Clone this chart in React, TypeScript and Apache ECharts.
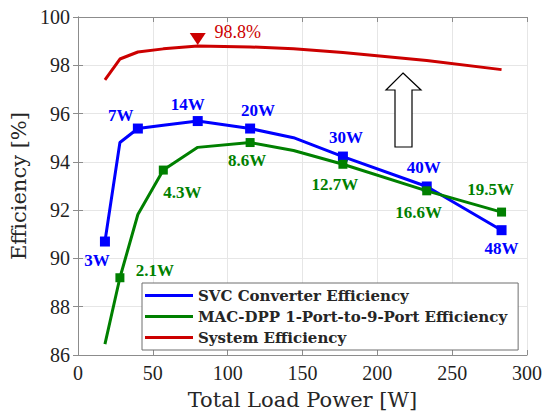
import React, { useEffect, useRef } from "react";
import * as echarts from "echarts";

// Total load power for every measured operating point [W]
const loadPower = [18, 28, 40, 57, 80, 115, 144, 177, 233, 283];
// Efficiency curves [%]
const svcEfficiency = [90.7, 94.8, 95.38, 95.52, 95.69, 95.38, 95.0, 94.22, 92.98, 91.17];
const dppEfficiency = [86.45, 89.2, 91.82, 93.66, 94.6, 94.8, 94.47, 93.9, 92.8, 91.92];
const systemEfficiency = [97.4, 98.26, 98.55, 98.68, 98.8, 98.76, 98.68, 98.53, 98.2, 97.82];

// Per-port power annotations at the marked points (index -> text)
const svcMarks: [number, string][] = [
  [0, "3W"], [2, "7W"], [4, "14W"], [5, "20W"], [7, "30W"], [8, "40W"], [9, "48W"],
];
const dppMarks: [number, string][] = [
  [1, "2.1W"], [3, "4.3W"], [5, "8.6W"], [7, "12.7W"], [8, "16.6W"], [9, "19.5W"],
];
const systemPeak: [number, string] = [4, "98.8%"];

const seriesNames = [
  "SVC Converter Efficiency",
  "MAC-DPP 1-Port-to-9-Port Efficiency",
  "System Efficiency",
];

const xTicks = { min: 0, max: 300, interval: 50 };
const yTicks = { min: 86, max: 100, interval: 2 };

// Label placement relative to the marker centre, in pixels
const labelOffsets: Record<string, [number, number]> = {
  "3W": [-8, 19], "7W": [-17, -13], "14W": [-10, -17], "20W": [8, -18],
  "30W": [3, -19], "40W": [-3, -19], "48W": [0, 18],
  "2.1W": [35, -7], "4.3W": [19, 22], "8.6W": [-3, 18], "12.7W": [-8, 20],
  "16.6W": [-8, 22], "19.5W": [-11, -23],
  "98.8%": [40, -7],
};

const BLUE = "#0000ff";
const GREEN = "#008000";
const RED = "#cc0000";
const TEXT = "#262626";
const SERIF = "Liberation Serif";
const WIDE_SERIF = "DejaVu Serif";

function buildData(values: number[], marks: [number, string][], color: string, size: number) {
  const lookup = new Map(marks);
  return values.map((v, i) => {
    const text = lookup.get(i);
    if (text === undefined) {
      return { value: [loadPower[i], v], symbol: "none" };
    }
    return {
      value: [loadPower[i], v],
      symbol: "rect",
      symbolSize: size,
      label: {
        show: true,
        position: "inside",
        formatter: text,
        offset: labelOffsets[text],
        color,
        fontFamily: SERIF,
        fontWeight: "bold",
        fontSize: 17,
      },
    };
  });
}

function buildSystemData() {
  const [peakIdx, peakText] = systemPeak;
  return systemEfficiency.map((v, i) => {
    if (i !== peakIdx) return { value: [loadPower[i], v], symbol: "none" };
    return {
      value: [loadPower[i], v],
      symbol: "triangle",
      symbolRotate: 180,
      symbolSize: [16, 12],
      symbolOffset: [0, -7],
      label: {
        show: true,
        position: "inside",
        formatter: peakText,
        offset: labelOffsets[peakText],
        color: RED,
        fontFamily: SERIF,
        fontSize: 18,
      },
    };
  });
}

export default function App() {
  const ref = useRef<HTMLDivElement>(null);

  useEffect(() => {
    if (!ref.current) return;
    const chart = echarts.init(ref.current, null, { renderer: "svg" });

    const gridLine = { show: true, lineStyle: { color: "#e6e6e6", width: 1 } };
    const boxLine = { show: true, lineStyle: { color: "#8c8c8c", width: 1 } };
    const innerTick = { show: true, inside: true, length: 5, lineStyle: { color: "#8c8c8c" } };
    const tickLabel = { color: "#1f1f1f", fontFamily: SERIF, fontSize: 20 };

    chart.setOption({
      animation: false,
      backgroundColor: "#ffffff",
      textStyle: { fontFamily: SERIF },
      grid: { left: 78, right: 17, top: 17, bottom: 58, containLabel: false },
      xAxis: [
        {
          type: "value",
          ...xTicks,
          position: "bottom",
          name: "Total Load Power [W]",
          nameLocation: "middle",
          nameGap: 34,
          nameTextStyle: { color: TEXT, fontFamily: WIDE_SERIF, fontSize: 21 },
          axisLine: boxLine,
          axisTick: innerTick,
          axisLabel: { ...tickLabel, margin: 8 },
          splitLine: gridLine,
        },
        {
          type: "value",
          ...xTicks,
          position: "top",
          axisLine: boxLine,
          axisTick: innerTick,
          axisLabel: { show: false },
          splitLine: { show: false },
        },
      ],
      yAxis: [
        {
          type: "value",
          ...yTicks,
          position: "left",
          name: "Efficiency [%]",
          nameLocation: "middle",
          nameGap: 43,
          nameTextStyle: { color: TEXT, fontFamily: WIDE_SERIF, fontSize: 21 },
          axisLine: boxLine,
          axisTick: innerTick,
          axisLabel: { ...tickLabel, margin: 8 },
          splitLine: gridLine,
        },
        {
          type: "value",
          ...yTicks,
          position: "right",
          axisLine: boxLine,
          axisTick: innerTick,
          axisLabel: { show: false },
          splitLine: { show: false },
        },
      ],
      legend: {
        orient: "vertical",
        left: 142,
        top: 283,
        icon: "rect",
        itemWidth: 48,
        itemHeight: 3,
        itemGap: 6,
        padding: [5, 11, 5, 3],
        backgroundColor: "#ffffff",
        borderColor: "#6e6e6e",
        borderWidth: 1,
        textStyle: { color: TEXT, fontFamily: WIDE_SERIF, fontWeight: "bold", fontSize: 15 },
        data: seriesNames,
      },
      series: [
        {
          name: seriesNames[0],
          type: "line",
          color: BLUE,
          lineStyle: { width: 3 },
          itemStyle: { color: BLUE },
          data: buildData(svcEfficiency, svcMarks, BLUE, 10),
          z: 3,
        },
        {
          name: seriesNames[1],
          type: "line",
          color: GREEN,
          lineStyle: { width: 3 },
          itemStyle: { color: GREEN },
          data: buildData(dppEfficiency, dppMarks, GREEN, 9),
          z: 4,
        },
        {
          name: seriesNames[2],
          type: "line",
          color: RED,
          lineStyle: { width: 3 },
          itemStyle: { color: RED },
          data: buildSystemData(),
          z: 5,
        },
      ],
      graphic: [
        {
          type: "polygon",
          shape: {
            points: [
              [403, 73], [421, 90], [412, 90], [412, 147],
              [395, 147], [395, 90], [386, 90],
            ],
          },
          style: { fill: "#ffffff", stroke: "#000000", lineWidth: 1.2 },
          z: 10,
        },
      ],
    });

    return () => chart.dispose();
  }, []);

  return (
    <div
      ref={ref}
      style={{ position: "fixed", left: 0, top: 0, width: 545, height: 415 }}
    />
  );
}
